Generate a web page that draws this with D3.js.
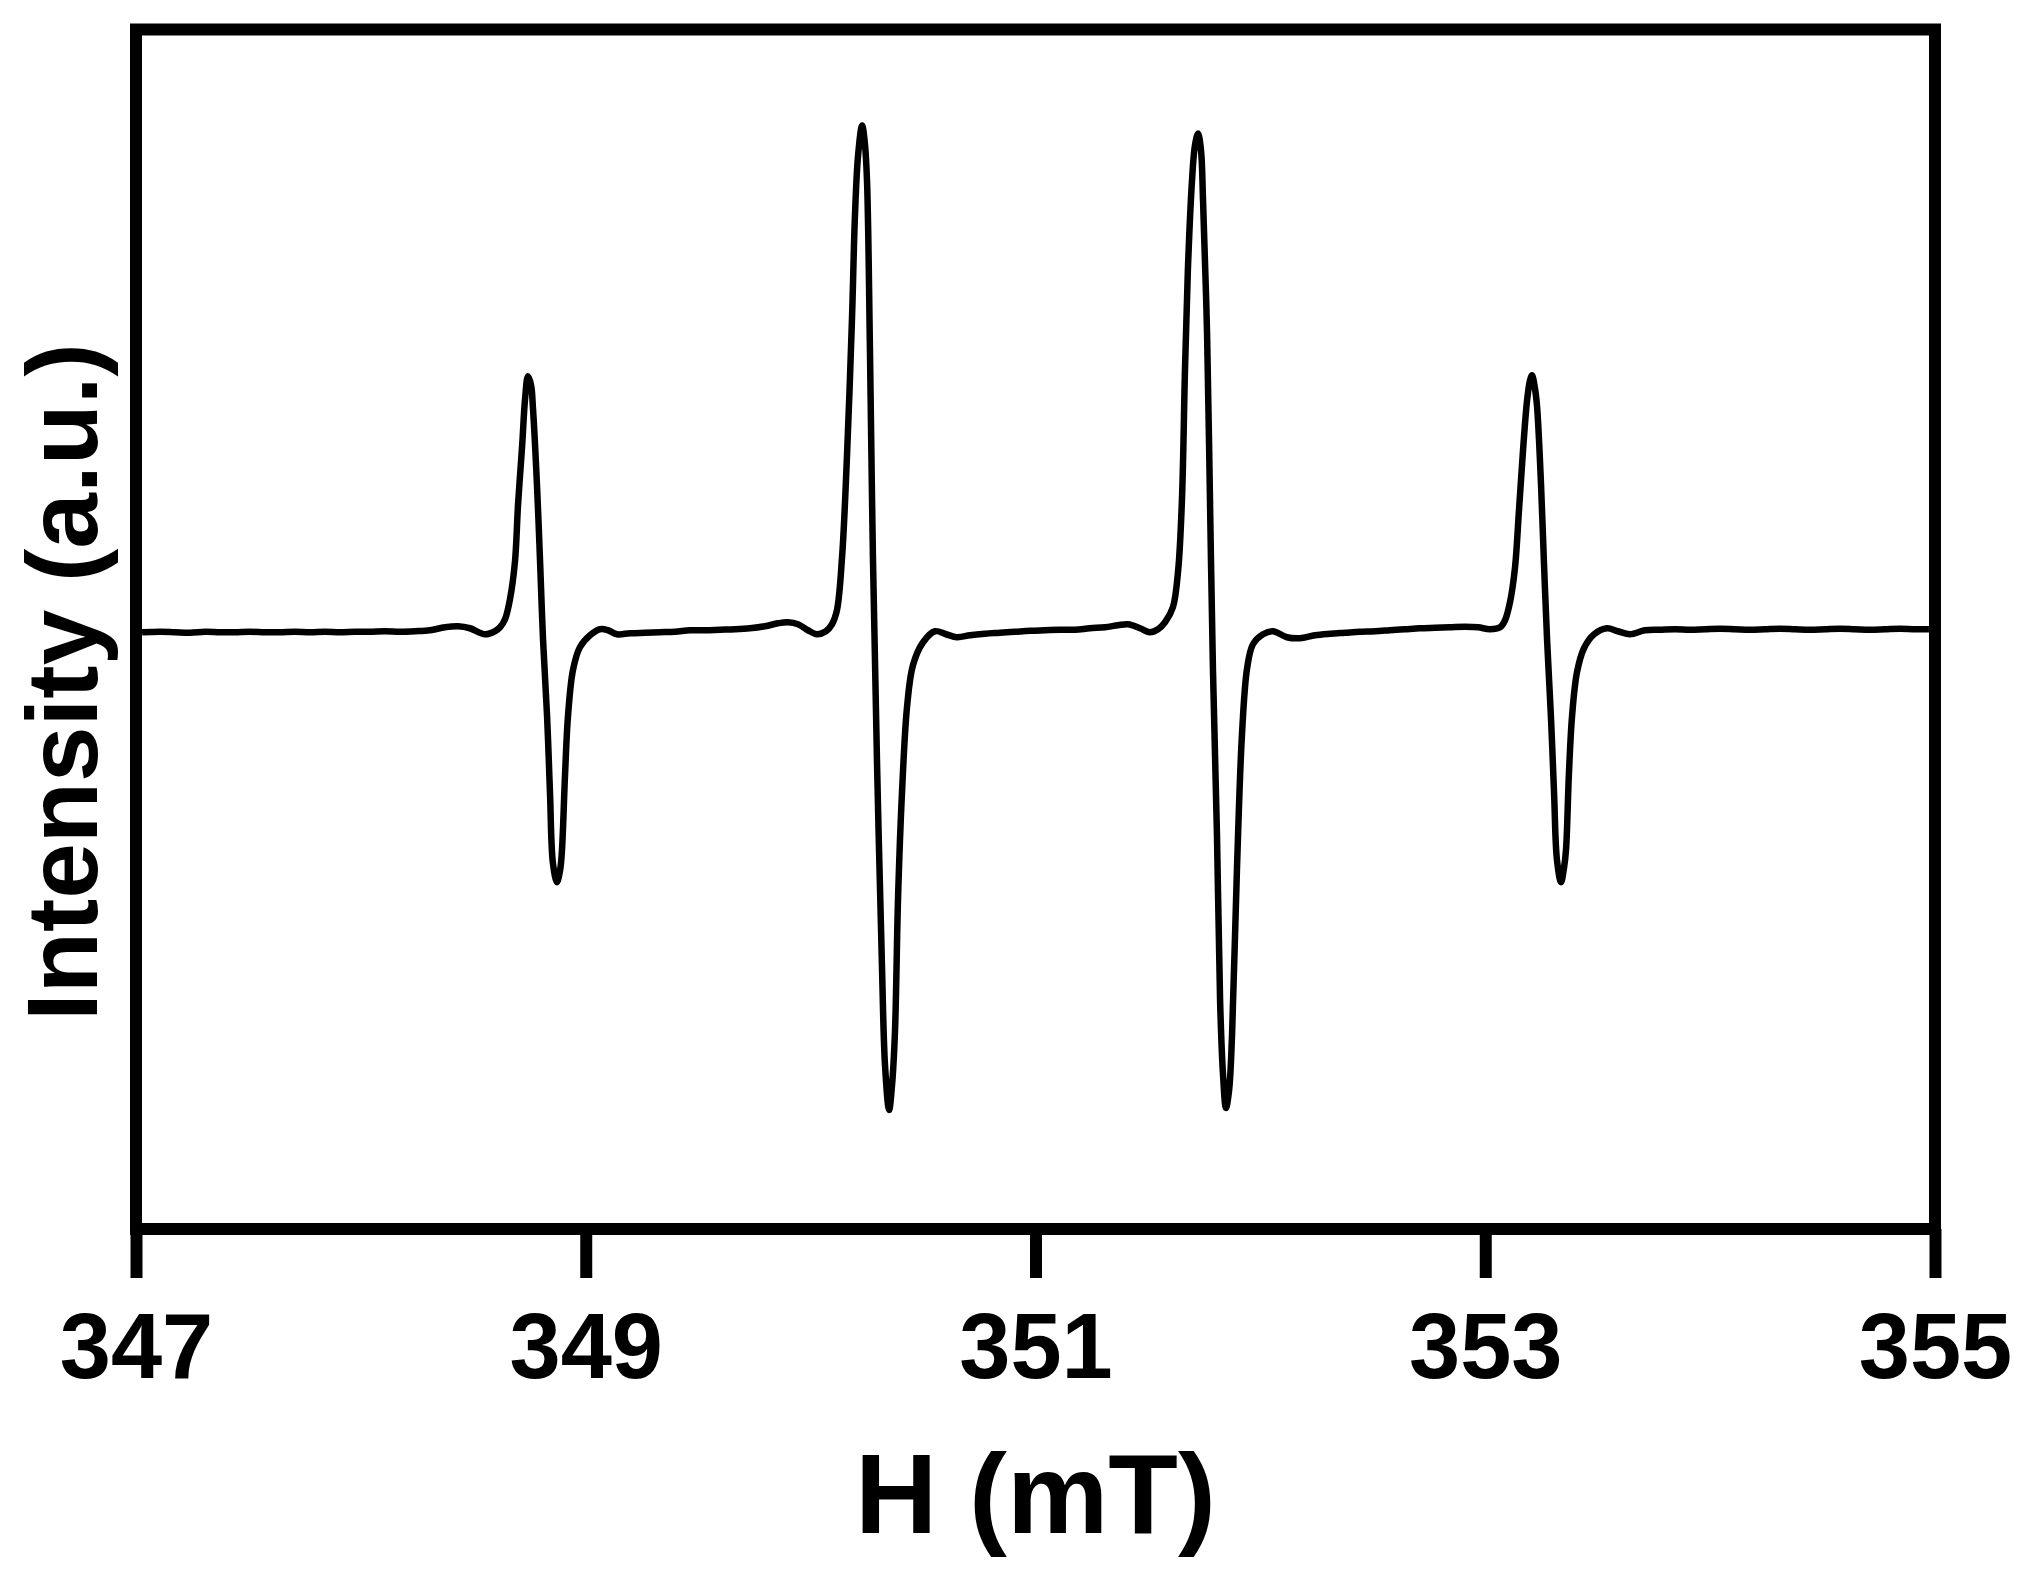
<!DOCTYPE html>
<html>
<head>
<meta charset="utf-8">
<script src="https://cdn.jsdelivr.net/npm/d3@7"></script>
<style>
    body { margin: 0; background: #fff; }
    .epr-chart text { font-family: "Liberation Sans", Arial, sans-serif; font-weight: bold; fill: #000; }
</style>
</head>
<body>
<div class="epr-chart"></div>
<script>
// EPR spectrum, values (field in mT, intensity in arbitrary units)
const fieldMT = [
    347.027, 347.107, 347.173, 347.240, 347.307, 347.374, 347.440, 347.507, 347.574, 347.640,
    347.707, 347.774, 347.840, 347.907, 347.974, 348.041, 348.107, 348.174, 348.241, 348.307,
    348.374, 348.432, 348.485, 348.552, 348.596, 348.619, 348.641, 348.663, 348.685, 348.699,
    348.717, 348.730, 348.743, 348.757, 348.765, 348.783, 348.797, 348.810, 348.828, 348.841,
    348.854, 348.872, 348.886, 348.894, 348.908, 348.921, 348.943, 348.974, 349.019, 349.063,
    349.099, 349.139, 349.197, 349.264, 349.330, 349.397, 349.464, 349.530, 349.597, 349.664,
    349.730, 349.797, 349.855, 349.899, 349.944, 349.988, 350.028, 350.068, 350.095, 350.117,
    350.140, 350.162, 350.184, 350.197, 350.211, 350.229, 350.242, 350.251, 350.264, 350.277,
    350.295, 350.317, 350.331, 350.349, 350.362, 350.375, 350.389, 350.406, 350.429, 350.455,
    350.500, 350.553, 350.602, 350.651, 350.709, 350.775, 350.842, 350.909, 350.976, 351.042,
    351.109, 351.176, 351.242, 351.309, 351.367, 351.411, 351.465, 351.509, 351.545, 351.576,
    351.611, 351.634, 351.651, 351.665, 351.678, 351.696, 351.709, 351.723, 351.736, 351.745,
    351.763, 351.776, 351.789, 351.807, 351.821, 351.834, 351.847, 351.861, 351.874, 351.896,
    351.918, 351.941, 351.967, 352.012, 352.056, 352.118, 352.176, 352.243, 352.310, 352.376,
    352.443, 352.510, 352.576, 352.643, 352.710, 352.777, 352.843, 352.910, 352.968, 353.021,
    353.066, 353.088, 353.110, 353.132, 353.150, 353.168, 353.186, 353.199, 353.208, 353.221,
    353.230, 353.248, 353.261, 353.275, 353.292, 353.306, 353.319, 353.337, 353.350, 353.359,
    353.372, 353.386, 353.408, 353.439, 353.484, 353.541, 353.590, 353.644, 353.710, 353.777,
    353.844, 353.911, 353.977, 354.044, 354.111, 354.177, 354.244, 354.311, 354.377, 354.444,
    354.511, 354.578, 354.644, 354.711, 354.778, 354.844, 354.911, 354.973
];

const intensity = [
    -0.03, -0.025, -0.03, -0.035, -0.025, -0.03, -0.03, -0.025, -0.03, -0.03,
    -0.025, -0.03, -0.025, -0.03, -0.025, -0.025, -0.02, -0.025, -0.02, -0.01,
    0.02, 0.03, 0.01, -0.05, -0.02, 0.02, 0.10, 0.30, 0.67, 1.25,
    1.83, 2.30, 2.53, 2.44, 2.22, 1.45, 0.67, -0.10, -0.87, -1.64,
    -2.34, -2.53, -2.41, -2.22, -1.45, -0.87, -0.41, -0.18, -0.06, 0.00,
    -0.01, -0.05, -0.04, -0.035, -0.03, -0.025, -0.01, -0.01, -0.005, 0.00,
    0.01, 0.03, 0.06, 0.07, 0.05, -0.01, -0.05, -0.02, 0.05, 0.19,
    0.73, 1.75, 3.11, 4.13, 4.74, 5.04, 4.84, 4.47, 2.77, 0.73,
    -1.31, -3.35, -4.37, -4.81, -4.56, -4.03, -2.67, -1.65, -0.77, -0.36,
    -0.13, -0.02, -0.05, -0.08, -0.06, -0.045, -0.035, -0.025, -0.015, -0.01,
    -0.005, -0.005, 0.01, 0.02, 0.04, 0.05, 0.01, -0.03, 0.00, 0.07,
    0.22, 0.58, 1.28, 2.62, 3.62, 4.49, 4.84, 4.96, 4.79, 4.29,
    2.95, 1.28, -0.39, -2.06, -3.73, -4.46, -4.79, -4.61, -4.06, -2.39,
    -1.06, -0.39, -0.15, -0.05, -0.02, -0.08, -0.09, -0.06, -0.045, -0.035,
    -0.025, -0.02, -0.01, 0.00, 0.01, 0.015, 0.02, 0.025, 0.02, 0.00,
    0.02, 0.09, 0.27, 0.61, 1.19, 1.79, 2.29, 2.49, 2.54, 2.41,
    2.24, 1.45, 0.67, -0.11, -0.87, -1.64, -2.31, -2.53, -2.39, -2.21,
    -1.45, -0.87, -0.43, -0.19, -0.05, 0.01, -0.02, -0.05, -0.01, -0.005,
    0.00, -0.005, 0.00, 0.005, 0.00, -0.005, 0.00, 0.005, 0.00, -0.005,
    0.00, 0.005, 0.00, -0.005, 0.00, 0.005, 0.00, 0.00
];

const xTicks = [347, 349, 351, 353, 355];
const xDomain = [347, 355];
const yDomain = [-6, 6];
const xTitle = "H (mT)";
const yTitle = "Intensity (a.u.)";

var width = 2027;
var height = 1577;
var margin = {top: 29.5, right: 92, bottom: 348, left: 136};
var plotW = width - margin.left - margin.right;
var plotH = height - margin.top - margin.bottom;

var svg = d3.select(".epr-chart")
    .append("svg")
    .attr("width", width)
    .attr("height", height)
    .style("display", "block")
    .style("background", "#fff");

var x = d3.scaleLinear().domain(xDomain).range([margin.left, margin.left + plotW]);
var y = d3.scaleLinear().domain(yDomain).range([margin.top + plotH, margin.top]);

var points = fieldMT.map(function (f, i) {
    return {field: f, value: intensity[i]};
});

var line = d3.line()
    .x(function (d) { return x(d.field); })
    .y(function (d) { return y(d.value); })
    .curve(d3.curveCatmullRom.alpha(0.5));

svg.append("path")
    .datum(points)
    .attr("d", line)
    .attr("fill", "none")
    .attr("stroke", "#000")
    .attr("stroke-width", 6.5)
    .attr("stroke-linejoin", "round");

// frame
svg.append("rect")
    .attr("x", margin.left)
    .attr("y", margin.top)
    .attr("width", plotW)
    .attr("height", plotH)
    .attr("fill", "none")
    .attr("stroke", "#000")
    .attr("stroke-width", 12);

var xAxis = svg.append("g")
    .attr("transform", "translate(0," + (margin.top + plotH) + ")")
    .call(d3.axisBottom(x)
        .tickValues(xTicks)
        .tickSize(49)
        .tickSizeOuter(0)
        .tickPadding(35)
        .tickFormat(d3.format("d")));

xAxis.select(".domain").remove();
xAxis.selectAll(".tick line")
    .attr("stroke", "#000")
    .attr("stroke-width", 12);
xAxis.selectAll(".tick text")
    .style("font-size", "92px")
    .attr("font-family", null);

svg.append("text")
    .attr("x", margin.left + plotW / 2)
    .attr("y", 1533)
    .attr("text-anchor", "middle")
    .style("font-size", "114px")
    .text(xTitle);

svg.append("text")
    .attr("transform", "translate(97,682) rotate(-90)")
    .attr("text-anchor", "middle")
    .style("font-size", "100px")
    .text(yTitle);
</script>
</body>
</html>
